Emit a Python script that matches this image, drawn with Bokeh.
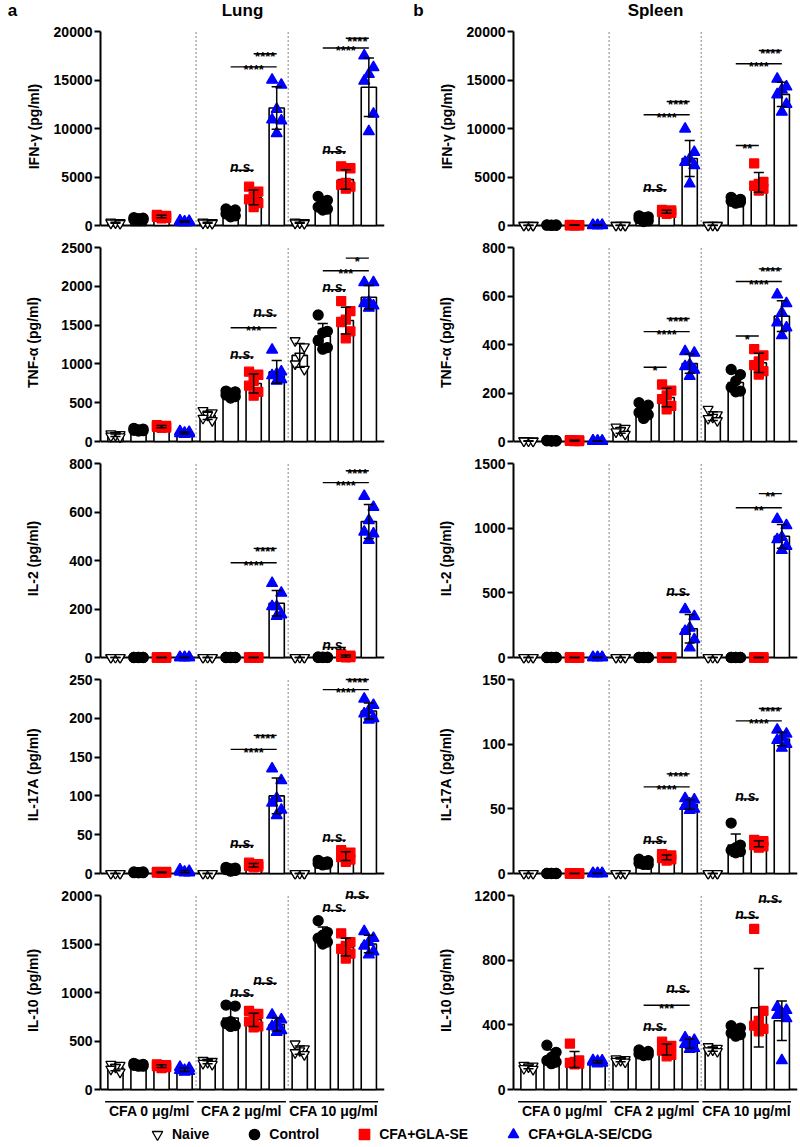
import numpy as np
from bokeh.plotting import figure
from bokeh.layouts import column, row
from bokeh.models import Range1d, FixedTicker, Legend, LegendItem, Span
from bokeh.core.properties import value
from bokeh.embed import file_html
from bokeh.resources import INLINE

# ---------------- data ----------------
TREATMENTS = ["Naive", "Control", "CFA+GLA-SE", "CFA+GLA-SE/CDG"]
DOSES = ["CFA 0 \u03bcg/ml", "CFA 2 \u03bcg/ml", "CFA 10 \u03bcg/ml"]
ORGANS = ["Lung", "Spleen"]
LETTERS = ["a", "b"]

# each list: 12 groups = dose-major (CFA 0, 2, 10) x treatment (Naive, Control, GLA-SE, GLA-SE/CDG)
LUNG_IFN = [
    [350, 300, 280, 250, 220], [800, 750, 700, 620, 580, 550], [1100, 1000, 950, 900, 800, 750], [500, 450, 400, 380, 350, 320],
    [350, 300, 280, 250, 220], [1700, 1600, 1400, 1200, 1000, 900], [4000, 3500, 3000, 2700, 2300, 1900], [15000, 14500, 12000, 10900, 10800, 9500],
    [350, 300, 280, 250, 220], [3000, 2600, 2300, 1900, 1700, 1600], [6100, 5900, 4400, 4200, 4000, 3800], [17500, 16300, 15600, 14900, 11500, 9700],
]
LUNG_IFN_TICKS = [0, 5000, 10000, 15000, 20000]
LUNG_IFN_SIG = [(5, 6, 5700, "n.s."), (5, 7, 16350, "****"), (6, 7, 17700, "****"),
                (9, 10, 7600, "n.s."), (9, 11, 18300, "****"), (10, 11, 19300, "****")]

LUNG_TNF = [
    [100, 90, 80, 70, 60], [170, 160, 150, 145, 140, 135], [210, 200, 195, 190, 180, 175], [130, 120, 110, 105, 100, 95],
    [400, 370, 340, 300, 270], [650, 640, 620, 600, 580, 560], [900, 860, 780, 720, 640, 590], [1180, 900, 870, 850, 800, 780],
    [1300, 1220, 1100, 1000, 930], [1630, 1420, 1400, 1300, 1210, 1190], [1810, 1680, 1570, 1540, 1420, 1330], [2050, 2050, 1800, 1780, 1750, 1720],
]
LUNG_TNF_TICKS = [0, 500, 1000, 1500, 2000, 2500]
LUNG_TNF_SIG = [(5, 6, 1090, "n.s."), (5, 7, 1466, "***"), (6, 7, 1628, "n.s."),
                (9, 10, 1957, "n.s."), (9, 11, 2201, "***"), (10, 11, 2363, "*")]

LUNG_IL2 = [
    [0, 0, 0, 0, 0], [0, 0, 0, 0, 0, 0], [0, 0, 0, 0, 0, 0], [0, 0, 0, 0, 0, 0],
    [0, 0, 0, 0, 0], [0, 0, 0, 0, 0, 0], [0, 0, 0, 0, 0, 0], [306, 266, 211, 211, 177, 170],
    [0, 0, 0, 0, 0], [2, 1, 1, 0, 0, 0], [14, 8, 5, 3, 2, 1], [665, 620, 565, 518, 511, 484],
]
LUNG_IL2_TICKS = [0, 200, 400, 600, 800]
LUNG_IL2_SIG = [(5, 7, 391, "****"), (6, 7, 450, "****"),
                (9, 10, 41, "n.s."), (9, 11, 721, "****"), (10, 11, 770, "****")]

LUNG_IL17 = [
    [0, 0, 0, 0, 0], [2, 2, 1, 1, 1, 1], [2, 2, 1, 1, 1, 1], [5, 3, 2, 2, 1, 1],
    [0, 0, 0, 0, 0], [8, 7, 6, 5, 4, 3], [14, 12, 11, 10, 9, 8], [135, 120, 97, 91, 82, 75],
    [0, 0, 0, 0, 0], [17, 15, 14, 13, 12, 11], [30, 27, 24, 21, 18, 15], [225, 217, 210, 206, 200, 198],
]
LUNG_IL17_TICKS = [0, 50, 100, 150, 200, 250]
LUNG_IL17_SIG = [(5, 6, 36, "n.s."), (5, 7, 160, "****"), (6, 7, 178, "****"),
                 (9, 10, 43, "n.s."), (9, 11, 237, "****"), (10, 11, 250, "****")]

LUNG_IL10 = [
    [260, 250, 230, 210, 180], [270, 260, 250, 250, 240, 240], [260, 250, 240, 240, 230, 220], [230, 220, 200, 200, 190, 180],
    [300, 290, 280, 270, 260], [870, 860, 700, 680, 660, 650], [810, 780, 730, 700, 650, 640], [770, 720, 680, 650, 610, 590],
    [470, 420, 400, 380, 360], [1740, 1620, 1590, 1560, 1520, 1500], [1610, 1520, 1480, 1450, 1400, 1350], [1630, 1560, 1520, 1480, 1420, 1390],
]
LUNG_IL10_TICKS = [0, 500, 1000, 1500, 2000]
LUNG_IL10_SIG = [(5, 6, 975, "n.s."), (6, 7, 1095, "n.s."), (9, 10, 1847, "n.s."), (10, 11, 1984, "n.s.")]

SPL_IFN = [
    [30, 20, 20, 10, 10], [60, 50, 40, 30, 20, 10], [50, 40, 30, 20, 20, 10], [40, 30, 20, 20, 10, 10],
    [30, 20, 20, 10, 10], [1000, 900, 800, 700, 500, 400], [1600, 1550, 1450, 1400, 1300, 1200], [9960, 7560, 6870, 6530, 6190, 4300],
    [30, 20, 20, 10, 10], [2900, 2700, 2600, 2500, 2400, 2300], [6400, 4500, 4300, 4100, 3800, 3600], [15100, 14300, 14000, 13500, 12500, 11700],
]
SPL_IFN_TICKS = [0, 5000, 10000, 15000, 20000]
SPL_IFN_SIG = [(5, 6, 3680, "n.s."), (5, 7, 11410, "****"), (6, 7, 12780, "****"),
               (9, 10, 8250, "**"), (9, 11, 16670, "****"), (10, 11, 18040, "****")]

SPL_TNF = [
    [4, 3, 2, 2, 1], [5, 4, 3, 3, 2, 2], [6, 5, 4, 3, 2, 2], [3, 2, 2, 1, 1, 1],
    [60, 55, 45, 40, 30], [160, 150, 135, 120, 110, 95], [235, 210, 190, 175, 147, 133], [371, 365, 317, 310, 295, 269],
    [133, 110, 100, 95, 86], [297, 276, 250, 224, 208, 205], [381, 355, 330, 315, 290, 276], [605, 569, 531, 490, 469, 437],
]
SPL_TNF_TICKS = [0, 200, 400, 600, 800]
SPL_TNF_SIG = [(5, 6, 306, "*"), (5, 7, 453, "****"), (6, 7, 507, "****"),
               (9, 10, 435, "*"), (9, 11, 660, "****"), (10, 11, 712, "****")]

SPL_IL2 = [
    [0, 0, 0, 0, 0], [0, 0, 0, 0, 0, 0], [0, 0, 0, 0, 0, 0], [0, 0, 0, 0, 0, 0],
    [0, 0, 0, 0, 0], [0, 0, 0, 0, 0, 0], [0, 0, 0, 0, 0, 0], [372, 317, 228, 203, 139, 76],
    [0, 0, 0, 0, 0], [0, 0, 0, 0, 0, 0], [0, 0, 0, 0, 0, 0], [1069, 1021, 930, 912, 861, 829],
]
SPL_IL2_TICKS = [0, 500, 1000, 1500]
SPL_IL2_SIG = [(6, 7, 489, "n.s."), (9, 11, 1158, "**"), (10, 11, 1267, "**")]

SPL_IL17 = [
    [0, 0, 0, 0, 0], [0, 0, 0, 0, 0, 0], [0, 0, 0, 0, 0, 0], [0, 0, 0, 0, 0, 0],
    [0, 0, 0, 0, 0], [11, 10, 9, 8, 7, 7], [15, 14, 13, 12, 11, 10], [58, 57, 54, 52, 50, 49],
    [0, 0, 0, 0, 0], [39, 22, 20, 18, 17, 16], [26, 25, 24, 22, 21, 20], [111, 108, 105, 103, 100, 97],
]
SPL_IL17_TICKS = [0, 50, 100, 150]
SPL_IL17_SIG = [(5, 6, 24.7, "n.s."), (5, 7, 67, "****"), (6, 7, 77, "****"),
                (9, 10, 57.7, "n.s."), (9, 11, 118, "****"), (10, 11, 127.6, "****")]

SPL_IL10 = [
    [150, 145, 140, 130, 125], [274, 230, 200, 180, 170, 160], [284, 180, 170, 165, 160, 155], [180, 178, 175, 170, 165, 160],
    [190, 185, 180, 175, 170], [245, 235, 225, 220, 215, 210], [296, 270, 260, 240, 215, 205], [320, 305, 290, 280, 255, 250],
    [265, 255, 245, 240, 235], [395, 380, 360, 350, 340, 330], [993, 486, 425, 395, 375, 360], [510, 490, 470, 460, 440, 180],
]
SPL_IL10_TICKS = [0, 400, 800, 1200]
SPL_IL10_SIG = [(5, 6, 375, "n.s."), (5, 7, 521, "***"), (6, 7, 608, "n.s."),
                (9, 10, 1064, "n.s."), (10, 11, 1165, "n.s.")]

LUNG_PANELS = [
    ("IFN-\u03b3 (pg/ml)", LUNG_IFN, LUNG_IFN_TICKS, LUNG_IFN_SIG),
    ("TNF-\u03b1 (pg/ml)", LUNG_TNF, LUNG_TNF_TICKS, LUNG_TNF_SIG),
    ("IL-2 (pg/ml)", LUNG_IL2, LUNG_IL2_TICKS, LUNG_IL2_SIG),
    ("IL-17A (pg/ml)", LUNG_IL17, LUNG_IL17_TICKS, LUNG_IL17_SIG),
    ("IL-10 (pg/ml)", LUNG_IL10, LUNG_IL10_TICKS, LUNG_IL10_SIG),
]
SPL_PANELS = [
    ("IFN-\u03b3 (pg/ml)", SPL_IFN, SPL_IFN_TICKS, SPL_IFN_SIG),
    ("TNF-\u03b1 (pg/ml)", SPL_TNF, SPL_TNF_TICKS, SPL_TNF_SIG),
    ("IL-2 (pg/ml)", SPL_IL2, SPL_IL2_TICKS, SPL_IL2_SIG),
    ("IL-17A (pg/ml)", SPL_IL17, SPL_IL17_TICKS, SPL_IL17_SIG),
    ("IL-10 (pg/ml)", SPL_IL10, SPL_IL10_TICKS, SPL_IL10_SIG),
]

# ---------------- style / layout ----------------
FONT = "Liberation Sans"
X0, X1 = -0.65, 11.68
FRAME_W = 284
PPU = FRAME_W / (X1 - X0)
SPAN_PX = 194
TOP_PX = 10
BOT_PX = 6
FRAME_H = SPAN_PX + TOP_PX + BOT_PX
BT, BB = 1, 5
HEADER_H = 20
MARKERS = ["inverted_triangle", "circle", "square", "triangle"]
FILLS = ["white", "black", "#ff0000", "#0000ff"]
LINES = ["black", "black", "#ff0000", "#0000ff"]
SIZES = [10, 10, 9, 11]
OFFS = [-0.2, 0.2, 0.0, -0.2, 0.2, 0.0]
NT = len(TREATMENTS)

COLS = [dict(bl=100, br=12, letter_off=-88), dict(bl=117, br=3, letter_off=-95)]


def base_fig(width, height, xr, yr, bl, br, bt, bb, yaxis=True):
    return figure(width=width, height=height, x_range=xr, y_range=yr,
                  x_axis_location=None, y_axis_location="left" if yaxis else None,
                  toolbar_location=None, output_backend="svg",
                  min_border_left=bl, min_border_right=br, min_border_top=bt, min_border_bottom=bb,
                  outline_line_color=None)


def make_header(col, organ, letter):
    bl, br = col["bl"], col["br"]
    w = bl + FRAME_W + br
    h = base_fig(w, HEADER_H, Range1d(X0 - bl / PPU, X1 + br / PPU), Range1d(0, 1), 0, 0, 0, 0, yaxis=False)
    h.grid.visible = False
    h.text(x=[(X0 + X1) / 2], y=[0.5], text=[organ], text_align="center", text_baseline="middle",
           text_font=value(FONT), text_font_style="bold", text_font_size="17px", text_color="black")
    h.text(x=[X0], y=[0.5], x_offset=col["letter_off"], text=[letter], text_align="center",
           text_baseline="middle", text_font=value(FONT), text_font_style="bold",
           text_font_size="17px", text_color="black")
    return h


def make_panel(ylabel, groups, ticks, sig, col):
    bl, br = col["bl"], col["br"]
    M = ticks[-1]
    upp = M / SPAN_PX
    p = base_fig(bl + FRAME_W + br, BT + FRAME_H + BB, Range1d(X0, X1),
                 Range1d(-BOT_PX * upp, M + TOP_PX * upp), bl, br, BT, BB)
    p.grid.visible = False
    ax = p.yaxis[0]
    ax.ticker = FixedTicker(ticks=ticks)
    ax.bounds = (0, M)
    ax.axis_label = ylabel
    ax.axis_label_text_font = FONT
    ax.axis_label_text_font_style = "bold"
    ax.axis_label_text_font_size = "14px"
    ax.major_label_text_font = FONT
    ax.major_label_text_font_style = "bold"
    ax.major_label_text_font_size = "14px"
    ax.major_label_text_color = "black"
    ax.axis_label_text_color = "black"
    ax.major_tick_out = 6
    ax.major_tick_in = 0
    ax.minor_tick_out = 0
    ax.minor_tick_in = 0
    ax.axis_line_width = 2
    ax.major_tick_line_width = 2
    ax.axis_line_color = "black"
    ax.major_tick_line_color = "black"
    ax.major_label_standoff = 2
    nd = len(str(M))
    ax.axis_label_standoff = int(round(64 - 16 - nd * 7.8))

    xs = np.arange(len(groups))
    means = np.array([np.mean(g) for g in groups])
    sds = np.array([np.std(g, ddof=1) for g in groups])

    p.add_layout(Span(location=0, dimension="width", line_color="black", line_width=2, level="underlay"))

    seps = [NT * (d + 1) - 0.5 for d in range(len(DOSES) - 1)]
    p.segment(x0=seps, y0=[0] * len(seps), x1=seps, y1=[M] * len(seps),
              line_color="#444444", line_width=1.3, line_dash="1 3")

    p.vbar(x=xs, top=means, bottom=0, width=0.66, fill_color="white",
           line_color="black", line_width=1.6)

    for t in range(NT):
        px, py = [], []
        for d in range(len(DOSES)):
            k = d * NT + t
            for i, v in enumerate(groups[k]):
                px.append(k + OFFS[i % len(OFFS)])
                py.append(v)
        p.scatter(px, py, marker=MARKERS[t], size=SIZES[t], fill_color=FILLS[t],
                  line_color=LINES[t], line_width=1.3)

    p.segment(x0=xs, y0=means - sds, x1=xs, y1=means + sds, line_color="black", line_width=1.5)
    p.segment(x0=xs - 0.22, y0=means + sds, x1=xs + 0.22, y1=means + sds, line_color="black", line_width=1.5)
    p.segment(x0=xs - 0.22, y0=means - sds, x1=xs + 0.22, y1=means - sds, line_color="black", line_width=1.5)

    sx0 = [s[0] for s in sig]
    sx1 = [s[1] for s in sig]
    sy = [s[2] for s in sig]
    p.segment(x0=sx0, y0=sy, x1=sx1, y1=sy, line_color="black", line_width=1.4)
    for (i, j, y, lab) in sig:
        if lab == "n.s.":
            p.text(x=[(i + j) / 2], y=[y + 3.0 * upp], text=[lab], text_align="center",
                   text_baseline="alphabetic", text_font=value(FONT), text_font_style="bold italic",
                   text_font_size="14px", text_color="black")
        else:
            p.text(x=[(i + j) / 2], y=[y - 3.0 * upp], text=[lab], text_align="center",
                   text_baseline="alphabetic", text_font=value(FONT), text_font_style="bold",
                   text_font_size="13px", text_color="black")
    return p


def make_strip(col):
    bl, br = col["bl"], col["br"]
    s = base_fig(bl + FRAME_W + br, 24, Range1d(X0, X1), Range1d(0, 1), bl, br, 0, 0, yaxis=False)
    s.grid.visible = False
    starts = [d * NT - 0.45 for d in range(len(DOSES))]
    ends = [d * NT + NT - 1 + 0.4 for d in range(len(DOSES))]
    s.segment(x0=starts, y0=[0.95] * 3, x1=ends, y1=[0.95] * 3, line_color="black", line_width=1.6)
    s.text(x=[(a + b) / 2 for a, b in zip(starts, ends)], y=[0.56] * 3, text=DOSES,
           text_align="center", text_baseline="middle", text_font=value(FONT),
           text_font_style="bold", text_font_size="14px", text_color="black")
    return s


rows = [row(make_header(COLS[0], ORGANS[0], LETTERS[0]), make_header(COLS[1], ORGANS[1], LETTERS[1]))]
for r in range(5):
    rows.append(row(make_panel(*LUNG_PANELS[r], COLS[0]), make_panel(*SPL_PANELS[r], COLS[1])))
rows.append(row(make_strip(COLS[0]), make_strip(COLS[1])))

lg = figure(width=800, height=20, x_range=Range1d(0, 1), y_range=Range1d(0, 1),
            x_axis_location=None, y_axis_location=None, toolbar_location=None,
            output_backend="svg", min_border=0, outline_line_color=None)
lg.grid.visible = False
items = []
for t in range(NT):
    r_ = lg.scatter([-10], [-10], marker=MARKERS[t], size=SIZES[t], fill_color=FILLS[t],
                    line_color=LINES[t], line_width=1.3)
    items.append(LegendItem(label=TREATMENTS[t], renderers=[r_]))
leg = Legend(items=items, orientation="horizontal", location=(144, -3),
             glyph_width=26, glyph_height=26, label_standoff=2, spacing=32,
             padding=0, margin=0, border_line_color=None, background_fill_alpha=0,
             label_text_font=FONT, label_text_font_style="bold", label_text_font_size="14px",
             label_text_color="black")
lg.add_layout(leg)
rows.append(lg)

layout = column(*rows)
open("out.html", "w").write(file_html(layout, INLINE))
